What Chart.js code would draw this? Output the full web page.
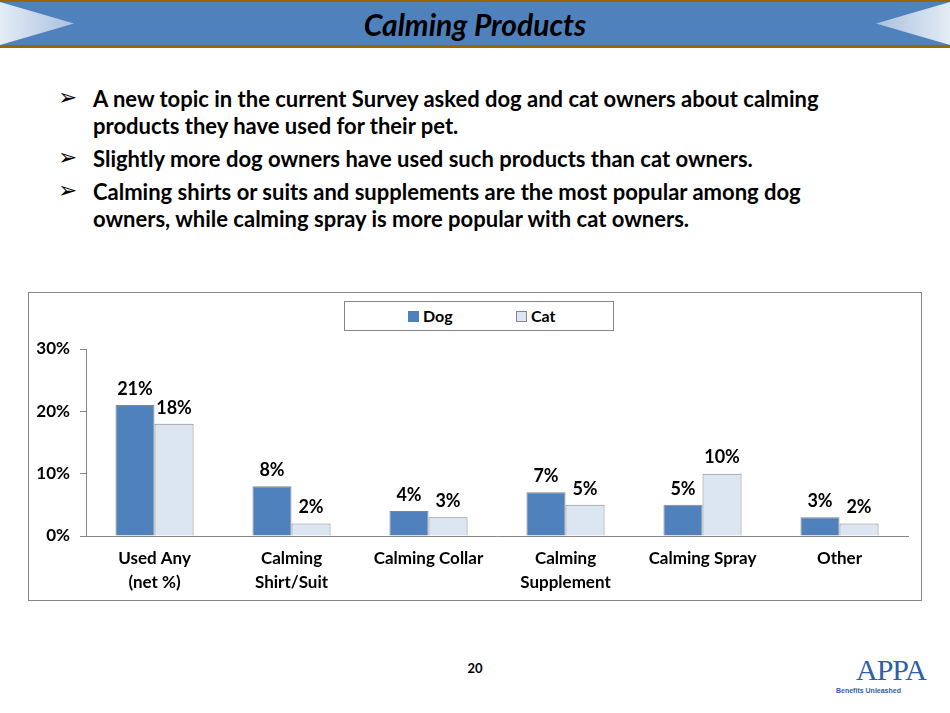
<!DOCTYPE html>
<html>
<head>
<meta charset="utf-8">
<script src="https://cdn.jsdelivr.net/npm/chart.js@4/dist/chart.umd.min.js"></script>
<style>
  html, body { margin:0; padding:0; background:#fff; }
  body { width:950px; height:713px; position:relative; overflow:hidden; font-family: Lato, "Noto Sans", sans-serif; }
  #band { position:absolute; left:0; top:0; width:950px; height:48px; background:#4F81BD;
          border-top:2px solid #9C6500; border-bottom:3px solid #9C6500; box-sizing:border-box; }
  .tri { position:absolute; top:2px; width:74px; height:43px; }
  #triL { left:0; clip-path: polygon(0 0, 100% 50%, 0 100%); background: linear-gradient(to right, #E4ECF6, #A9C0DE); }
  #triR { right:0; clip-path: polygon(100% 0, 0 50%, 100% 100%); background: linear-gradient(to left, #E4ECF6, #A9C0DE); }
  #title { position:absolute; left:0; width:950px; top:6px; text-align:center; font-weight:bold; font-style:italic; font-size:30px; color:#000; line-height:36px; }
  #bullets { position:absolute; left:58px; top:85px; width:790px; font-weight:bold; font-size:22px; line-height:27px; color:#000; }
  .b { position:relative; padding-left:35px; margin-bottom:6px; }
  .b .arr { position:absolute; left:0; top:-1px; font-family:"DejaVu Sans"; font-size:23px; font-weight:normal; }
  #box { position:absolute; left:28px; top:292px; width:894px; height:309px; border:1px solid #868686; box-sizing:border-box; }
  #legend { position:absolute; left:344px; top:301px; width:270px; height:30px; border:1px solid #868686; box-sizing:border-box; background:#fff; font-weight:bold; font-size:16px; }
  .li { position:absolute; top:5px; line-height:18px; }
  .sw { display:inline-block; width:11px; height:11px; margin-right:4px; box-sizing:border-box; vertical-align:0px; }
  #wrap { position:absolute; left:29px; top:293px; width:892px; height:307px; }
  #page { position:absolute; left:0; width:950px; top:660px; text-align:center; font-weight:bold; font-size:13px; }
  #logo { position:absolute; left:836px; top:655px; width:110px; height:55px; }
  #logo .a { position:absolute; left:20px; top:-2px; font-family:"Liberation Serif", serif; font-size:30px; color:#2E5FA8; letter-spacing:-1px; }
  #logo .s { position:absolute; left:0px; top:32px; font-family:"Liberation Sans", sans-serif; font-size:7px; font-weight:bold; color:#2E5FA8; }
</style>
</head>
<body>
<div id="band"></div>
<div class="tri" id="triL"></div>
<div class="tri" id="triR"></div>
<div id="title">Calming Products</div>
<div id="bullets">
  <div class="b"><span class="arr">➢</span>A new topic in the current Survey asked dog and cat owners about calming products they have used for their pet.</div>
  <div class="b"><span class="arr">➢</span>Slightly more dog owners have used such products than cat owners.</div>
  <div class="b"><span class="arr">➢</span>Calming shirts or suits and supplements are the most popular among dog owners, while calming spray is more popular with cat owners.</div>
</div>
<div id="box"></div>
<div id="wrap"><canvas id="c"></canvas></div>
<div id="legend">
  <div class="li" style="left:63px"><span class="sw" style="background:#4F81BD;"></span>Dog</div>
  <div class="li" style="left:171px"><span class="sw" style="background:#DCE6F2;border:1px solid #868686;"></span>Cat</div>
</div>
<div id="page">20</div>
<div id="logo"><span class="a">APPA</span><span class="s">Benefits Unleashed</span></div>
<script>
const categories = [["Used Any","(net %)"],["Calming","Shirt/Suit"],"Calming Collar",["Calming","Supplement"],"Calming Spray","Other"];
const dogValues = [21, 8, 4, 7, 5, 3];
const catValues = [18, 2, 3, 5, 10, 2];
const yTicks = [0, 10, 20, 30];

const FONT = 'Lato, "Noto Sans", sans-serif';

const labelPlugin = {
  id: 'barLabels',
  afterDatasetsDraw(chart) {
    const ctx = chart.ctx;
    ctx.save();
    ctx.font = 'bold 18px ' + FONT;
    ctx.fillStyle = '#000';
    ctx.textAlign = 'center';
    ctx.textBaseline = 'bottom';
    chart.data.datasets.forEach((ds, i) => {
      chart.getDatasetMeta(i).data.forEach((bar, j) => {
        ctx.fillText(ds.data[j] + '%', bar.x, bar.y - 7);
      });
    });
    ctx.restore();
  }
};

new Chart(document.getElementById('c'), {
  type: 'bar',
  data: {
    labels: categories,
    datasets: [
      { label: 'Dog', data: dogValues, backgroundColor: '#4F81BD', borderColor: '#868686', borderWidth: 1, categoryPercentage: 0.57, barPercentage: 1 },
      { label: 'Cat', data: catValues, backgroundColor: '#DCE6F2', borderColor: '#868686', borderWidth: 1, categoryPercentage: 0.57, barPercentage: 1 }
    ]
  },
  options: {
    responsive: true,
    maintainAspectRatio: false,
    animation: false,
    layout: { padding: { top: 56, right: 13, bottom: 0, left: 0 } },
    plugins: { legend: { display: false }, tooltip: { enabled: false } },
    scales: {
      x: {
        grid: { display: false, drawTicks: false },
        border: { color: '#868686' },
        ticks: { color: '#000', font: { family: FONT, size: 17, weight: 'bold', lineHeight: 1.38 }, padding: 11, maxRotation: 0, autoSkip: false },
        afterFit(s) { s.height = 64; }
      },
      y: {
        min: 0, max: 30,
        afterBuildTicks(s) { s.ticks = yTicks.map(v => ({ value: v })); },
        grid: { drawOnChartArea: false, drawTicks: true, tickLength: 6, color: '#868686' },
        border: { color: '#868686' },
        ticks: { color: '#000', font: { family: FONT, size: 17, weight: 'bold' }, padding: 10, callback: v => v + '%' },
        afterFit(s) { s.width = 57; }
      }
    }
  },
  plugins: [labelPlugin]
});
</script>
</body>
</html>
